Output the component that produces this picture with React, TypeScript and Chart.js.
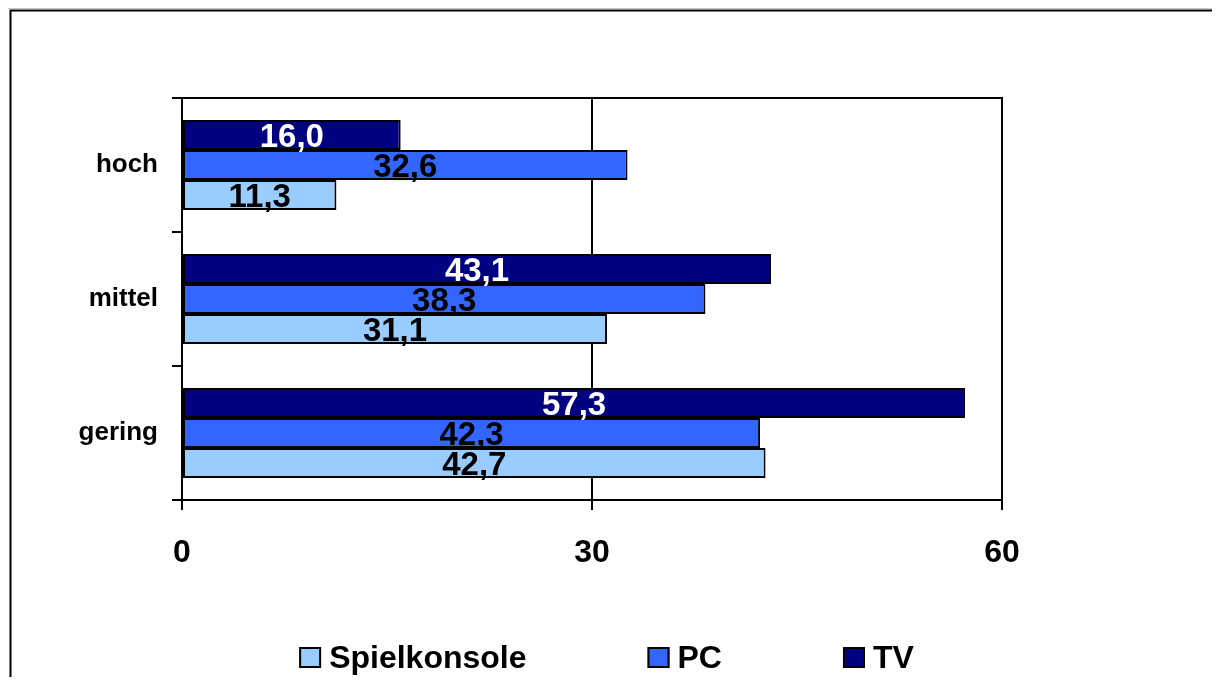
import React, { useEffect, useRef } from "react";
import { Chart, registerables } from "chart.js";

Chart.register(...registerables);

const categories = ["hoch", "mittel", "gering"];
const tvValues = [16.0, 43.1, 57.3];
const pcValues = [32.6, 38.3, 42.3];
const konsoleValues = [11.3, 31.1, 42.7];
const xMin = 0;
const xMax = 60;
const xStep = 30;
const legendOrder = ["Spielkonsole", "PC", "TV"];

const FONT = "'Liberation Sans', Arial, Helvetica, sans-serif";
const colors: Record<string, string> = {
  TV: "#000080",
  PC: "#3366FF",
  Spielkonsole: "#99CCFF",
};
const labelColors: Record<string, string> = {
  TV: "#FFFFFF",
  PC: "#000000",
  Spielkonsole: "#000000",
};

const frame = {
  id: "frame",
  beforeDraw(chart: any) {
    const { ctx, width, height } = chart;
    ctx.save();
    ctx.fillStyle = "#FFFFFF";
    ctx.fillRect(0, 0, width, height);
    ctx.strokeStyle = "#C8C8C8";
    ctx.lineWidth = 1;
    ctx.beginPath();
    ctx.moveTo(0, 0.5);
    ctx.lineTo(width, 0.5);
    ctx.stroke();
    ctx.strokeStyle = "#000000";
    ctx.lineWidth = 2;
    ctx.beginPath();
    ctx.moveTo(width + 5, 2.5);
    ctx.lineTo(2.5, 2.5);
    ctx.lineTo(2.5, height + 5);
    ctx.stroke();
    ctx.restore();
  },
  afterDraw(chart: any) {
    const { ctx, chartArea } = chart;
    ctx.save();
    ctx.strokeStyle = "#000000";
    ctx.lineWidth = 2;
    ctx.beginPath();
    ctx.moveTo(chartArea.left - 10, chartArea.top);
    ctx.lineTo(chartArea.right, chartArea.top);
    ctx.lineTo(chartArea.right, chartArea.bottom);
    ctx.stroke();

    // legend
    const fontSize = 32;
    ctx.font = `bold ${fontSize}px ${FONT}`;
    const box = 22;
    const boxGap = 8;
    const itemGap = 121;
    const widths = legendOrder.map((n) => box + boxGap + ctx.measureText(n).width);
    const total = widths.reduce((a, b) => a + b, 0) + itemGap * (widths.length - 1);
    let x = 598.5 - total / 2;
    const baseline = 660;
    const boxTop = 639;
    legendOrder.forEach((name, i) => {
      ctx.fillStyle = colors[name];
      ctx.fillRect(x, boxTop, box, box - 1);
      ctx.strokeStyle = "#000000";
      ctx.lineWidth = 2;
      ctx.strokeRect(x + 1, boxTop + 1, box - 2, box - 3);
      ctx.fillStyle = "#000000";
      ctx.textAlign = "left";
      ctx.textBaseline = "alphabetic";
      ctx.fillText(name, x + box + boxGap, baseline);
      x += widths[i] + itemGap;
    });
    ctx.restore();
  },
};

const valueLabels = {
  id: "valueLabels",
  afterDatasetsDraw(chart: any) {
    const { ctx } = chart;
    const fontSize = 33;
    ctx.save();
    ctx.font = `bold ${fontSize}px ${FONT}`;
    ctx.textAlign = "center";
    ctx.textBaseline = "alphabetic";
    chart.data.datasets.forEach((ds: any, di: number) => {
      const meta = chart.getDatasetMeta(di);
      meta.data.forEach((bar: any, i: number) => {
        const v = ds.data[i] as number;
        const txt = v.toFixed(1).replace(".", ",");
        const cx = (bar.base + bar.x) / 2;
        ctx.fillStyle = labelColors[ds.label];
        ctx.fillText(txt, cx, bar.y + fontSize * 0.37);
      });
    });
    ctx.restore();
  },
};

export default function App() {
  const ref = useRef<HTMLCanvasElement | null>(null);
  useEffect(() => {
    if (!ref.current) return;
    const mk = (label: string, data: number[]) => ({
      label,
      data,
      backgroundColor: colors[label],
      borderColor: "#000000",
      borderWidth: 2,
      borderSkipped: false,
      categoryPercentage: 90 / 134,
      barPercentage: 1,
    });
    const chart = new Chart(ref.current, {
      type: "bar",
      data: {
        labels: categories,
        datasets: [mk("TV", tvValues), mk("PC", pcValues), mk("Spielkonsole", konsoleValues)],
      },
      options: {
        indexAxis: "y",
        responsive: false,
        animation: false,
        layout: { padding: { top: 90, right: 210, bottom: 97, left: 0 } },
        plugins: {
          legend: { display: false },
          tooltip: { enabled: false },
          title: { display: false },
        },
        scales: {
          x: {
            type: "linear",
            min: xMin,
            max: xMax,
            ticks: {
              stepSize: xStep,
              color: "#000000",
              font: { family: FONT, size: 32, weight: "bold" },
              padding: 24,
            },
            grid: {
              color: "#000000",
              lineWidth: 2,
              tickLength: 10,
              drawOnChartArea: true,
            },
            border: { color: "#000000", width: 2 },
            afterFit: (s: any) => {
              s.height = 80;
            },
          },
          y: {
            type: "category",
            offset: true,
            ticks: {
              color: "#000000",
              font: { family: FONT, size: 26, weight: "bold" },
              padding: 14,
            },
            grid: {
              offset: true,
              color: "#000000",
              lineWidth: 2,
              tickLength: 10,
              drawOnChartArea: false,
            },
            border: { color: "#000000", width: 2 },
            afterFit: (s: any) => {
              s.width = 174;
            },
          },
        },
      },
      plugins: [frame, valueLabels],
    } as any);
    return () => chart.destroy();
  }, []);
  return (
    <canvas
      ref={ref}
      width={1204}
      height={669}
      style={{ display: "block", width: 1204, height: 669 }}
    />
  );
}
